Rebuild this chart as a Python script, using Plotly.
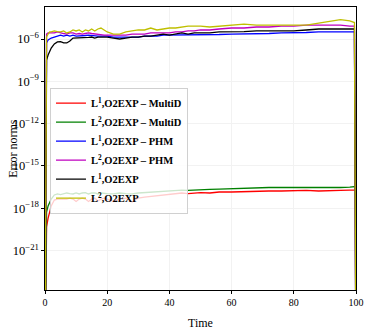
import plotly.graph_objects as go

time = [0, 0.5, 1, 1.5, 2, 3, 4, 5, 6, 7, 8, 9, 10, 11, 12, 13, 14, 15, 16, 17, 18, 19, 20,
        22, 24, 26, 28, 30, 32, 34, 36, 38, 40, 42, 44, 46, 48, 50, 53, 56, 60, 64, 68, 72,
        76, 80, 84, 88, 92, 95, 98, 99.5, 100]

# log10 of the error norms
l1_multid = [-30, -19.33, -18.70, -18.27, -17.84, -17.42, -17.35, -17.35, -17.35, -17.35, -17.28, -17.35,
             -17.52, -17.35, -17.28, -17.35, -17.52, -17.35, -17.28, -17.49, -17.35, -17.28, -17.35,
             -17.52, -17.35, -17.28, -17.56, -17.28, -17.21, -17.17, -17.13, -17.06, -17.03, -16.96,
             -16.92, -16.96, -16.92, -16.89, -16.92, -16.85, -16.85, -16.82, -16.78, -16.78,
             -16.78, -16.74, -16.74, -16.78, -16.78, -16.74, -16.71, -16.71, -16.71]
l2_multid = [-30, -18.27, -17.84, -17.56, -17.35, -17.06, -16.99, -17.03, -16.99, -16.92, -16.96, -16.99,
             -16.92, -16.99, -16.92, -16.89, -16.99, -16.92, -16.92, -16.99, -16.92, -16.92, -16.96,
             -16.99, -16.92, -16.96, -16.99, -16.92, -16.89, -16.85, -16.82, -16.78, -16.74, -16.71,
             -16.71, -16.74, -16.71, -16.67, -16.67, -16.64, -16.60, -16.57, -16.57, -16.53,
             -16.53, -16.53, -16.53, -16.57, -16.57, -16.53, -16.50, -16.46, -16.46]
l1_phm = [-30, -6.28, -6.07, -6.00, -5.93, -5.86, -5.79, -5.72, -5.79, -5.72, -5.79, -5.72,
          -5.79, -5.79, -5.79, -5.75, -5.72, -5.75, -5.79, -5.79, -5.79, -5.79, -5.79,
          -5.86, -5.86, -5.86, -5.86, -5.86, -5.79, -5.79, -5.79, -5.72, -5.72, -5.72,
          -5.72, -5.72, -5.72, -5.72, -5.72, -5.68, -5.65, -5.65, -5.65, -5.61,
          -5.57, -5.57, -5.54, -5.50, -5.50, -5.50, -5.50, -5.50, -30]
l2_phm = [-30, -5.65, -5.57, -5.57, -5.57, -5.57, -5.50, -5.57, -5.61, -5.65, -5.57, -5.57,
          -5.65, -5.61, -5.65, -5.61, -5.57, -5.61, -5.65, -5.68, -5.72, -5.72, -5.72,
          -5.72, -5.72, -5.72, -5.65, -5.65, -5.65, -5.57, -5.57, -5.57, -5.57, -5.50,
          -5.50, -5.43, -5.43, -5.36, -5.36, -5.29, -5.22, -5.22, -5.15, -5.15,
          -5.08, -5.08, -5.01, -5.01, -5.01, -5.01, -5.08, -5.08, -30]
l1_o2exp = [-30, -7.49, -7.13, -6.92, -6.64, -6.35, -6.21, -6.18, -6.28, -6.28, -6.14, -5.93,
            -5.93, -5.93, -5.89, -5.89, -5.89, -5.86, -5.93, -5.86, -5.86, -5.86, -5.86,
            -5.93, -6.00, -5.93, -5.86, -5.86, -5.79, -5.79, -5.72, -5.65, -5.72, -5.65,
            -5.57, -5.65, -5.57, -5.57, -5.57, -5.50, -5.50, -5.47, -5.43, -5.43,
            -5.43, -5.43, -5.36, -5.29, -5.29, -5.29, -5.29, -5.29, -30]
l2_o2exp = [-30, -5.86, -5.65, -5.50, -5.50, -5.43, -5.47, -5.50, -5.43, -5.57, -5.50, -5.36,
            -5.43, -5.36, -5.50, -5.36, -5.43, -5.29, -5.43, -5.29, -5.22, -5.36, -5.50,
            -5.65, -5.65, -5.50, -5.43, -5.36, -5.36, -5.22, -5.36, -5.29, -5.22, -5.22,
            -5.15, -5.08, -5.08, -5.08, -5.15, -5.08, -5.01, -4.94, -5.01, -5.01,
            -5.01, -5.01, -5.01, -4.87, -4.72, -4.62, -4.72, -4.83, -30]

series = [
    ("<b>L<sup>1</sup>,O2EXP – MultiD</b>", l1_multid, "#ff0000"),
    ("<b>L<sup>2</sup>,O2EXP – MultiD</b>", l2_multid, "#008000"),
    ("<b>L<sup>1</sup>,O2EXP – PHM</b>", l1_phm, "#0000ff"),
    ("<b>L<sup>2</sup>,O2EXP – PHM</b>", l2_phm, "#bf00bf"),
    ("<b>L<sup>1</sup>,O2EXP</b>", l1_o2exp, "#000000"),
    ("<b>L<sup>2</sup>,O2EXP</b>", l2_o2exp, "#bfbf00"),
]

serif = "Liberation Serif, DejaVu Serif, serif"

fig = go.Figure()
for name, logs, color in series:
    fig.add_trace(go.Scatter(
        x=time, y=[10 ** v for v in logs], mode="lines", name=name,
        line=dict(color=color, width=1.3),
    ))

fig.update_layout(
    width=369, height=329,
    margin=dict(l=45, r=13, t=7, b=39, autoexpand=False),
    paper_bgcolor="white", plot_bgcolor="white",
    font=dict(family=serif, size=10, color="black"),
    showlegend=True,
    legend=dict(
        x=0.016, y=0.715, xanchor="left", yanchor="top",
        bgcolor="rgba(255,255,255,0.8)", bordercolor="#d0d0d0", borderwidth=1,
        font=dict(family=serif, size=10.5, color="black"),
        tracegroupgap=0, itemwidth=30,
    ),
    annotations=[
        dict(text="Time", xref="paper", yref="paper", x=0.5, y=-0.085,
             xanchor="center", yanchor="top", showarrow=False,
             font=dict(family=serif, size=12)),
        dict(text="Error norms", xref="paper", yref="paper", x=-0.105, y=0.5,
             xanchor="center", yanchor="middle", textangle=-90, showarrow=False,
             font=dict(family=serif, size=12)),
    ],
)
fig.update_xaxes(
    range=[0, 100], tickvals=[0, 20, 40, 60, 80, 100], automargin=False,
    showline=True, linecolor="black", linewidth=1, mirror=True,
    ticks="outside", ticklen=3, tickcolor="black",
    showgrid=True, gridcolor="#f2f2f2", zeroline=False,
    tickfont=dict(family=serif, size=10),
)
fig.update_yaxes(
    type="log", range=[-23.8, -3.73], dtick=3, exponentformat="power", automargin=False,
    showline=True, linecolor="black", linewidth=1, mirror=True,
    ticks="outside", ticklen=3, tickcolor="black",
    showgrid=True, gridcolor="#f2f2f2", zeroline=False,
    tickfont=dict(family=serif, size=10),
)

fig.write_html("out.html", config={"displayModeBar": False},
               post_script="document.body.style.margin='0';")
